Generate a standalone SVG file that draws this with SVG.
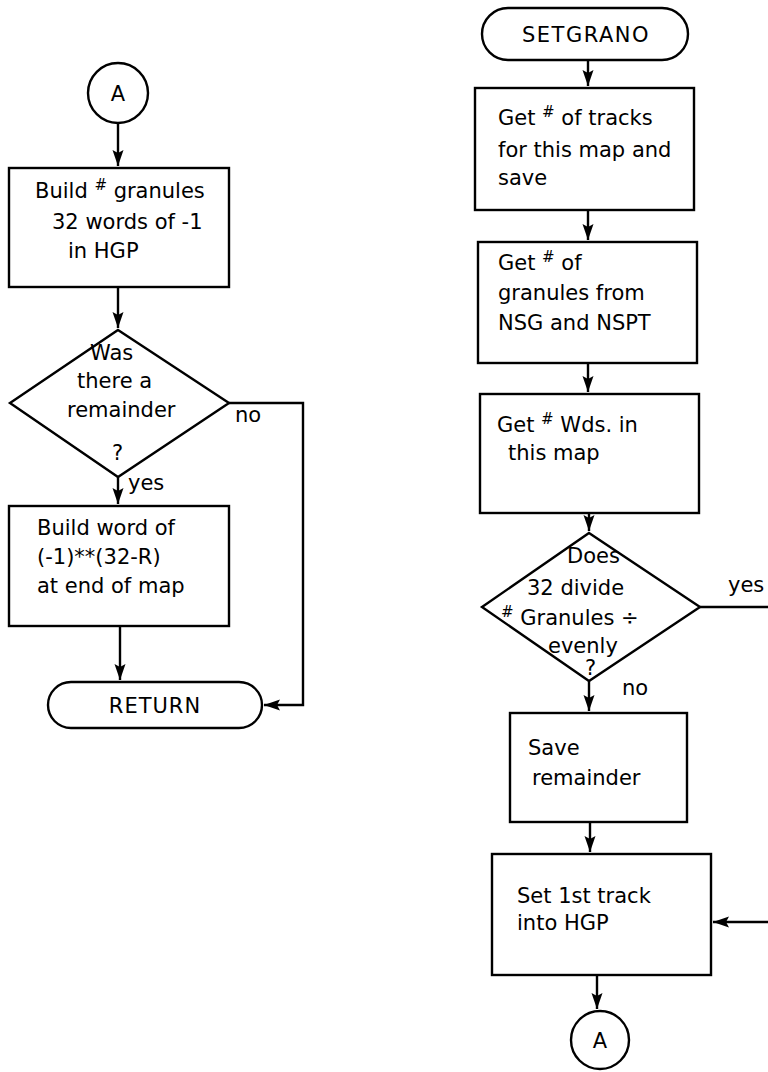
<svg xmlns="http://www.w3.org/2000/svg" width="768" height="1072" viewBox="0 0 768 1072">
<style>
.s{fill:#fff;stroke:#000;stroke-width:2.4}
.t{font-family:"DejaVu Sans","Liberation Sans",sans-serif;font-size:21px;fill:#000}
.sup{font-size:15px}
.c{fill:none;stroke:#000;stroke-width:2.4}
</style>
<defs>
<marker id="ah" markerUnits="userSpaceOnUse" markerWidth="18" markerHeight="12" refX="16" refY="5.5" orient="auto">
<path d="M0,0 L16,5.5 L0,11 L3,5.5 z" fill="#000"/>
</marker>
</defs>
<rect width="768" height="1072" fill="#fff"/>
<g id="connectors">
<path class="c" d="M118,123 V166" marker-end="url(#ah)"/>
<path class="c" d="M118,287 V328" marker-end="url(#ah)"/>
<path class="c" d="M118,477 V504" marker-end="url(#ah)"/>
<path class="c" d="M120,626 V680" marker-end="url(#ah)"/>
<path class="c" d="M229,403 H303 V705 H264" marker-end="url(#ah)"/>
<path class="c" d="M588,60 V86" marker-end="url(#ah)"/>
<path class="c" d="M588,210 V240" marker-end="url(#ah)"/>
<path class="c" d="M588,363 V392" marker-end="url(#ah)"/>
<path class="c" d="M589,513 V531" marker-end="url(#ah)"/>
<path class="c" d="M589,681 V711" marker-end="url(#ah)"/>
<path class="c" d="M590,822 V852" marker-end="url(#ah)"/>
<path class="c" d="M700,607 H768"/>
<path class="c" d="M768,922 H713" marker-end="url(#ah)"/>
<path class="c" d="M597,975 V1009" marker-end="url(#ah)"/>
<text class="t" x="235" y="422">no</text>
<text class="t" x="128" y="490">yes</text>
<text class="t" x="728" y="592">yes</text>
<text class="t" x="622" y="695">no</text>
</g>
<g id="connA1">
<circle class="s" cx="118" cy="93" r="30"/>
<text class="t" x="118" y="101" text-anchor="middle">A</text>
</g>
<g id="buildGranules">
<rect class="s" x="9" y="168" width="220" height="119"/>
<text class="t" x="35" y="198">Build <tspan class="sup" dy="-8">#</tspan><tspan dy="8"> granules</tspan></text>
<text class="t" x="52" y="229">32 words of -1</text>
<text class="t" x="68" y="258">in HGP</text>
</g>
<g id="remainderQ">
<polygon class="s" points="118,330 229,403 118,477 10,403"/>
<text class="t" x="90" y="360">Was</text>
<text class="t" x="77" y="388">there a</text>
<text class="t" x="67" y="417">remainder</text>
<text class="t" x="112" y="460">?</text>
</g>
<g id="buildWord">
<rect class="s" x="9" y="506" width="220" height="120"/>
<text class="t" x="37" y="535">Build word of</text>
<text class="t" x="37" y="564">(-1)**(32-R)</text>
<text class="t" x="37" y="593">at end of map</text>
</g>
<g id="return">
<rect class="s" x="48" y="682" width="214" height="46" rx="23"/>
<text class="t" x="155" y="713" text-anchor="middle" letter-spacing="1">RETURN</text>
</g>
<g id="setgrano">
<rect class="s" x="482" y="8" width="206" height="52" rx="26"/>
<text class="t" x="586" y="42" text-anchor="middle" letter-spacing="1.5">SETGRANO</text>
</g>
<g id="getTracks">
<rect class="s" x="475" y="88" width="219" height="122"/>
<text class="t" x="498" y="125">Get <tspan class="sup" dy="-8">#</tspan><tspan dy="8"> of tracks</tspan></text>
<text class="t" x="498" y="157">for this map and</text>
<text class="t" x="498" y="185">save</text>
</g>
<g id="getGranules">
<rect class="s" x="478" y="242" width="219" height="121"/>
<text class="t" x="498" y="270">Get <tspan class="sup" dy="-8">#</tspan><tspan dy="8"> of</tspan></text>
<text class="t" x="498" y="300">granules from</text>
<text class="t" x="498" y="330">NSG and NSPT</text>
</g>
<g id="getWords">
<rect class="s" x="480" y="394" width="219" height="119"/>
<text class="t" x="497" y="432">Get <tspan class="sup" dy="-8">#</tspan><tspan dy="8"> Wds. in</tspan></text>
<text class="t" x="508" y="460">this map</text>
</g>
<g id="divideQ">
<polygon class="s" points="589,533 700,607 589,681 482,607"/>
<text class="t" x="567" y="563">Does</text>
<text class="t" x="527" y="595">32 divide</text>
<text class="t" x="501" y="625"><tspan class="sup" dy="-8">#</tspan><tspan dy="8"> Granules ÷</tspan></text>
<text class="t" x="548" y="653">evenly</text>
<text class="t" x="585" y="675">?</text>
</g>
<g id="saveRem">
<rect class="s" x="510" y="713" width="177" height="109"/>
<text class="t" x="528" y="755">Save</text>
<text class="t" x="532" y="785">remainder</text>
</g>
<g id="setTrack">
<rect class="s" x="492" y="854" width="219" height="121"/>
<text class="t" x="517" y="903">Set  1st track</text>
<text class="t" x="517" y="930">into HGP</text>
</g>
<g id="connA2">
<circle class="s" cx="600" cy="1040" r="29"/>
<text class="t" x="600" y="1048" text-anchor="middle">A</text>
</g>
</svg>
